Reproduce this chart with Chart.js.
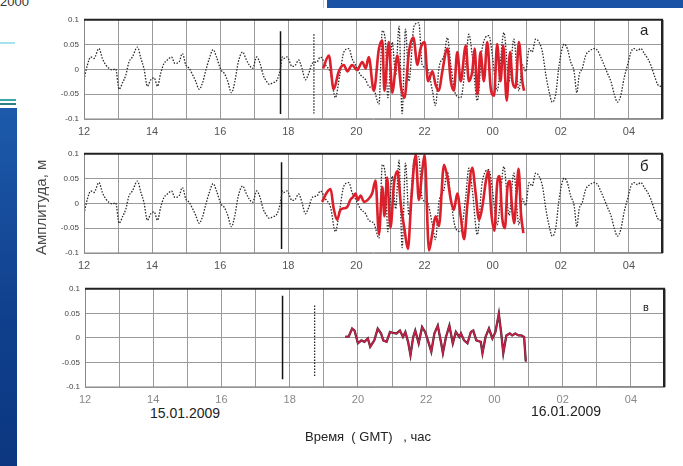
<!DOCTYPE html>
<html>
<head>
<meta charset="utf-8">
<script src="https://cdn.jsdelivr.net/npm/chart.js@4"></script>
<style>
  body { margin: 0; width: 683px; height: 466px; background: #fff; position: relative; overflow: hidden;
         font-family: "Liberation Sans", Arial, sans-serif; }
  canvas { position: absolute; left: 0; }
  .txt { position: absolute; color: #222; white-space: pre; font-weight: normal; }
  .deco { position: absolute; }
</style>
</head>
<body>
<div class="deco" style="left:0;top:108px;width:17px;height:358px;background:linear-gradient(#1d5aab,#0f3f8c 60%,#0c3780);"></div>
<div class="deco" style="left:0;top:99px;width:16px;height:2px;background:#3aa6a8;"></div>
<div class="deco" style="left:0;top:103px;width:16px;height:2px;background:#2c7f86;"></div>
<div class="deco" style="left:0;top:42px;width:15px;height:2px;background:#a8e2ea;"></div>
<div class="deco" style="left:327px;top:0;width:356px;height:8px;background:#1a53a5;"></div>
<div class="deco" style="left:323px;top:0;width:1px;height:8px;background:#bcd;"></div>
<div class="txt" style="left:0;top:-6px;font-size:13px;color:#333;">2000</div>

<canvas id="pa" width="683" height="127" style="top:10px"></canvas>
<canvas id="pb" width="683" height="127" style="top:144px"></canvas>
<canvas id="pc" width="683" height="126" style="top:279px"></canvas>

<div class="txt" style="left:640px;top:21px;font-size:15px;">а</div>
<div class="txt" style="left:640px;top:157px;font-size:15px;">б</div>
<div class="txt" style="left:643px;top:301px;font-size:11px;">в</div>
<div class="txt" style="left:32px;top:150px;font-size:15px;color:#4a4a4a;writing-mode:vertical-rl;transform:rotate(180deg);height:114px;text-align:center;">Амплитуда, м</div>
<div class="txt" style="left:150px;top:405px;font-size:14px;">15.01.2009</div>
<div class="txt" style="left:531px;top:403px;font-size:14px;">16.01.2009</div>
<div class="txt" style="left:305px;top:429px;font-size:13px;">Время  ( GMT)   , час</div>

<script>
// hours from 12:00 on 15.01 (24 = 00:00 on 16.01)
const obsT = [12.00,12.10,12.20,12.29,12.44,12.54,12.64,12.74,12.83,12.93,13.03,13.13,13.23,13.32,13.42,13.57,13.67,13.76,13.86,13.96,
  14.06,14.16,14.25,14.35,14.45,14.57,14.67,14.79,14.89,14.99,15.09,15.19,15.28,15.38,15.48,15.58,15.68,15.79,15.89,16.02,
  16.12,16.22,16.33,16.43,16.53,16.66,16.75,16.85,16.95,17.07,17.17,17.26,17.36,17.44,17.54,17.67,17.76,17.83,17.86,17.96,
  18.11,18.21,18.30,18.40,18.50,18.60,18.70,18.84,18.94,19.09,19.24,19.38,19.51,19.63,19.78,19.87,19.97,20.12,20.27,20.36,
  20.51,20.66,20.76,20.85,20.92,21.05,21.15,21.25,21.34,21.44,21.54,21.69,21.83,21.93,22.08,22.23,22.32,22.42,22.57,22.67,
  22.77,22.91,23.06,23.21,23.30,23.40,23.55,23.69,23.89,23.99,24.13,24.33,24.48,24.62,24.77,24.87,24.97,25.07,25.16,25.26,
  25.36,25.46,25.56,25.65,25.75,25.85,25.95,26.10,26.19,26.29,26.39,26.47,26.54,26.63,26.73,26.86,26.98,27.08,27.17,27.27,
  27.37,27.47,27.57,27.66,27.76,27.86,27.96,28.06,28.15,28.25,28.35,28.45,28.55,28.64,28.74,28.84,28.94,29.00];
const obsV = [-0.021,0.009,0.025,0.022,0.042,0.022,0.009,0.002,-0.001,0.001,-0.040,-0.027,-0.011,0.015,0.025,0.045,0.022,0.002,-0.034,-0.021,
  -0.017,-0.034,-0.008,0.012,0.019,0.025,0.012,0.015,0.032,0.009,0.002,-0.011,-0.024,-0.040,-0.027,-0.001,0.022,0.040,0.025,-0.001,
  -0.008,-0.024,-0.047,-0.024,0.015,0.035,0.022,0.009,0.002,0.025,0.012,-0.011,-0.024,-0.030,-0.027,-0.021,-0.001,0.025,0.022,0.025,
  0.006,0.009,0.019,0.002,-0.021,-0.008,0.012,0.015,0.025,0.009,-0.008,-0.057,-0.011,0.035,0.042,0.022,0.009,-0.011,-0.021,-0.034,
  -0.040,-0.070,0.078,0.055,-0.057,0.055,-0.011,0.087,-0.089,0.081,-0.024,0.087,0.094,0.009,0.002,-0.043,-0.073,0.002,0.028,0.064,
  0.009,-0.050,-0.057,0.015,0.071,0.028,-0.063,0.042,0.068,0.028,-0.043,0.074,-0.024,0.061,-0.043,0.009,-0.004,0.042,0.035,0.061,
  0.055,0.035,-0.011,-0.043,-0.066,-0.050,0.009,0.051,0.042,0.015,-0.004,-0.047,-0.011,0.002,0.028,0.038,0.042,0.038,0.025,0.009,
  -0.008,-0.024,-0.050,-0.066,-0.053,-0.017,0.009,0.035,0.042,0.038,0.042,0.032,0.022,0.009,-0.011,-0.030,-0.034,-0.027];

// model, panel а
const modAT = [19.02,19.19,19.33,19.48,19.63,19.73,19.87,20.02,20.17,20.27,20.36,20.51,20.66,20.76,20.82,20.95,21.05,21.20,21.31,21.41,
  21.54,21.67,21.79,21.88,22.00,22.10,22.23,22.32,22.42,22.52,22.67,22.77,22.86,22.96,23.06,23.21,23.30,23.40,23.47,23.55,
  23.64,23.74,23.84,23.94,24.04,24.13,24.23,24.31,24.41,24.51,24.58,24.67,24.77,24.87,24.92];
const modAV = [0.002,0.028,-0.040,-0.004,0.009,-0.004,0.009,-0.001,0.015,0.002,0.025,-0.043,0.042,0.058,-0.043,0.055,-0.047,0.028,-0.037,-0.057,
  0.035,0.064,0.009,0.042,0.055,-0.024,-0.004,-0.030,-0.043,-0.004,0.042,-0.024,-0.043,0.035,-0.024,0.048,-0.024,-0.004,0.042,-0.050,
  0.035,-0.024,0.055,-0.037,-0.053,0.051,-0.024,0.048,-0.063,0.035,-0.024,-0.037,0.055,-0.024,-0.043];

// model, panel б
const modBT = [18.99,19.14,19.24,19.33,19.43,19.53,19.63,19.73,19.82,19.90,19.97,20.04,20.12,20.22,20.33,20.46,20.56,20.66,20.76,20.82,
  20.90,21.00,21.10,21.20,21.31,21.41,21.51,21.61,21.74,21.83,21.93,22.00,22.13,22.23,22.32,22.42,22.57,22.67,22.77,22.86,
  22.96,23.06,23.16,23.26,23.40,23.50,23.60,23.70,23.80,23.87,23.96,24.05,24.13,24.20,24.28,24.36,24.43,24.50,24.57,24.63,
  24.70,24.76,24.83,24.90];
const modBV = [0.003,0.023,0.029,-0.010,-0.033,-0.013,-0.010,-0.007,0.007,0.013,0.020,0.007,0.016,0.003,0.007,0.020,0.046,-0.062,0.033,-0.026,
  0.052,-0.049,0.039,0.065,-0.007,-0.052,-0.092,0.007,0.098,0.007,0.065,0.098,-0.095,-0.059,-0.026,-0.046,0.078,0.052,0.007,-0.013,
  0.020,-0.026,-0.072,0.000,0.072,0.020,-0.033,-0.005,0.045,0.065,-0.020,-0.055,0.040,0.055,-0.030,-0.050,0.030,0.045,-0.010,-0.040,
  0.020,0.070,-0.020,-0.060];

// panel в
const modCT = [19.63,19.73,19.83,19.90,20.00,20.10,20.19,20.29,20.36,20.48,20.58,20.68,20.74,20.84,20.94,21.03,21.13,21.23,21.32,21.39,
  21.47,21.54,21.62,21.68,21.78,21.88,21.97,22.05,22.15,22.24,22.34,22.44,22.49,22.58,22.68,22.78,22.87,22.97,23.02,23.11,
  23.21,23.31,23.38,23.47,23.60,23.65,23.74,23.84,23.94,24.03,24.13,24.20,24.26,24.35,24.45,24.52,24.61,24.71,24.79,24.87,24.92];
const modCV = [0.002,0.003,0.019,0.015,-0.011,-0.005,-0.008,-0.001,-0.018,-0.005,0.019,0.009,-0.005,-0.008,0.012,0.010,0.009,0.015,0.002,0.012,
  -0.008,-0.035,0.002,0.015,-0.011,0.022,0.012,-0.005,-0.028,0.009,0.025,-0.011,-0.031,0.002,0.025,-0.011,0.012,0.002,0.009,-0.005,
  -0.011,0.012,0.015,-0.005,-0.008,-0.031,0.002,0.019,-0.001,0.012,0.049,0.009,-0.031,0.005,0.009,0.005,0.009,0.005,0.005,0.002,-0.048];

// vertical marks: [hour, top, bottom]
const markSolid = { a: [17.77, 0.077, -0.090], b: [17.80, 0.083, -0.092], c: [17.79, 0.086, -0.084] };
const markDotted = { a: [18.75, 0.071, -0.089], c: [18.73, 0.066, -0.080] };

function pts(t, v) {
  return t.map((x, i) => ({ x: x, y: v[i] }));
}
function vline(m) {
  return [{ x: m[0], y: m[1] }, { x: m[0], y: m[2] }];
}

const frame = {
  id: 'frame',
  afterDraw(chart) {
    const a = chart.chartArea, c = chart.ctx;
    c.save();
    c.strokeStyle = '#888'; c.lineWidth = 1;
    c.beginPath(); c.moveTo(a.left + 0.5, a.top); c.lineTo(a.left + 0.5, a.bottom); c.lineTo(a.right, a.bottom - 0.5); c.stroke();
    c.strokeStyle = '#222'; c.lineWidth = 2;
    c.beginPath(); c.moveTo(a.left, a.top); c.lineTo(a.right - 1, a.top); c.lineTo(a.right - 1, a.bottom); c.stroke();
    c.restore();
  }
};

function panel(id, datasets, padLeft, padRight, xColor) {
  new Chart(document.getElementById(id), {
    type: 'line',
    data: { datasets: datasets },
    options: {
      responsive: false,
      animation: false,
      layout: { padding: { left: padLeft, right: padRight, top: 7, bottom: 0 } },
      plugins: { legend: { display: false }, tooltip: { enabled: false } },
      elements: { point: { radius: 0 }, line: { tension: 0 } },
      scales: {
        x: {
          type: 'linear', min: 12, max: 29,
          afterFit: s => { s.height = 18; },
          grid: { color: '#9a9a9a', lineWidth: 1, drawTicks: false },
          border: { display: false },
          ticks: {
            stepSize: 1, autoSkip: false, maxRotation: 0, padding: 6,
            color: xColor, font: { family: 'Liberation Sans', size: 11 },
            callback: v => (v % 2 === 0 ? String(v % 24).padStart(2, '0') : '')
          }
        },
        y: {
          min: -0.1, max: 0.1,
          afterFit: s => { s.width = 40; },
          grid: { color: '#9a9a9a', lineWidth: 1, drawTicks: false },
          border: { display: false },
          ticks: {
            stepSize: 0.05, padding: 5, color: '#444',
            font: { family: 'Liberation Sans Narrow, Liberation Sans', size: 8 },
            callback: v => { const r = Math.round(v * 100) / 100; return r === 0 ? '0' : String(r); }
          }
        }
      }
    },
    plugins: [frame]
  });
}

// first dataset in the list is drawn on top
const obsSet = () => ({ data: pts(obsT, obsV), borderColor: '#2a2a2a', borderWidth: 1.3, borderDash: [1.5, 1.5],
  cubicInterpolationMode: 'monotone' });
const redSet = (t, v) => ({ data: pts(t, v), borderColor: '#dc1f2a', borderWidth: 2.6, cubicInterpolationMode: 'monotone' });
const solidSet = m => ({ data: vline(m), borderColor: '#111', borderWidth: 1.5 });
const dotSet = m => ({ data: vline(m), borderColor: '#222', borderWidth: 1.3, borderDash: [1.5, 1.5] });

panel('pa', [
  redSet(modAT, modAV),
  obsSet(),
  solidSet(markSolid.a), dotSet(markDotted.a)
], 44, 20, '#555');

panel('pb', [
  redSet(modBT, modBV),
  obsSet(),
  solidSet(markSolid.b)
], 44, 20, '#555');

panel('pc', [
  { data: pts(modCT, modCV), borderColor: '#c42048', borderWidth: 1.6 },
  { data: pts(modCT, modCV), borderColor: '#3a2a30', borderWidth: 2.3 },
  solidSet(markSolid.c), dotSet(markDotted.c)
], 45, 18, '#888');
</script>
</body>
</html>
